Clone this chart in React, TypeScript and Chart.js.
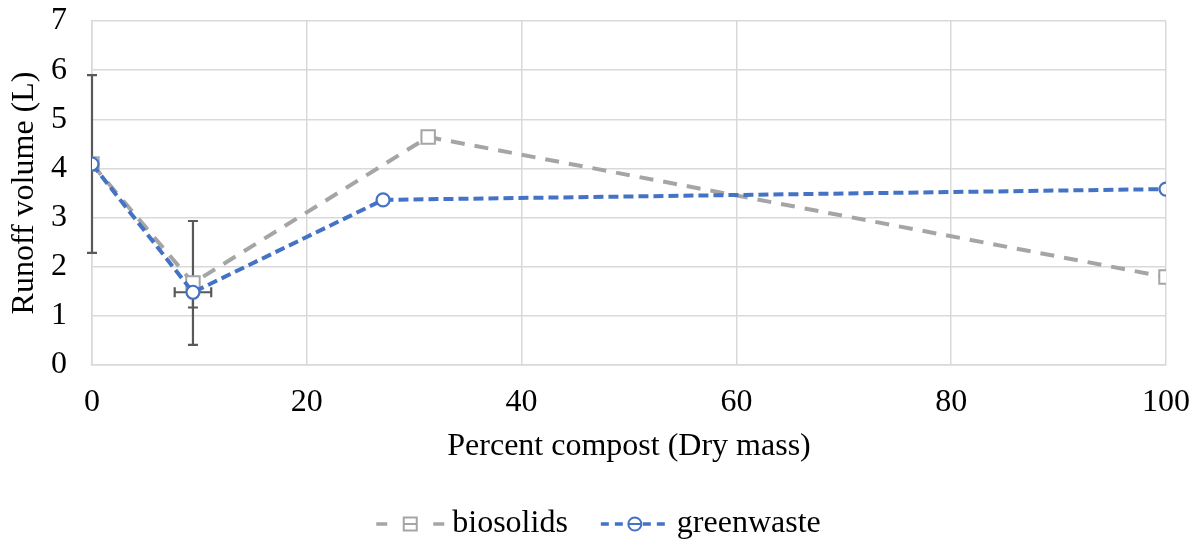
import { useEffect, useRef } from "react";
import { Chart, registerables } from "chart.js";

Chart.register(...registerables);

// ---- data ----
const seriesNames = ["biosolids", "greenwaste"];
const biosolidsX = [0, 9.4, 31.3, 100];
const biosolidsY = [4.09, 1.67, 4.64, 1.79];
const biosolidsYErr = [1.81, 1.26, 0, 0];
const greenwasteX = [0, 9.4, 27.1, 100];
const greenwasteY = [4.09, 1.48, 3.36, 3.58];
const greenwasteYErr = [0, 0.31, 0, 0];
const greenwasteXErr = [0, 1.7, 0, 0];
const xAxisTitle = "Percent compost (Dry mass)";
const yAxisTitle = "Runoff volume (L)";
const xMin = 0, xMax = 100, xStep = 20;
const yMin = 0, yMax = 7, yStep = 1;

const FONT = "'Liberation Serif', 'Times New Roman', serif";
const FS = 32;
const GRAY = "#a5a5a5";
const BLUE = "#4472c4";
const ERR = "#595959";

const errorBarPlugin = {
  id: "errorBars",
  beforeDatasetsDraw(chart: any) {
    const { ctx, scales } = chart;
    const xs = scales.x, ys = scales.y;
    ctx.save();
    ctx.strokeStyle = ERR;
    ctx.lineWidth = 2.2;
    const cap = 5;
    const drawY = (xv: number, yv: number, e: number) => {
      if (!e) return;
      const px = xs.getPixelForValue(xv);
      const y1 = ys.getPixelForValue(yv + e);
      const y2 = ys.getPixelForValue(yv - e);
      ctx.beginPath();
      ctx.moveTo(px, y1); ctx.lineTo(px, y2);
      ctx.moveTo(px - cap, y1); ctx.lineTo(px + cap, y1);
      ctx.moveTo(px - cap, y2); ctx.lineTo(px + cap, y2);
      ctx.stroke();
    };
    const drawX = (xv: number, yv: number, e: number) => {
      if (!e) return;
      const py = ys.getPixelForValue(yv);
      const x1 = xs.getPixelForValue(xv - e);
      const x2 = xs.getPixelForValue(xv + e);
      ctx.beginPath();
      ctx.moveTo(x1, py); ctx.lineTo(x2, py);
      ctx.moveTo(x1, py - cap); ctx.lineTo(x1, py + cap);
      ctx.moveTo(x2, py - cap); ctx.lineTo(x2, py + cap);
      ctx.stroke();
    };
    biosolidsX.forEach((x, i) => drawY(x, biosolidsY[i], biosolidsYErr[i]));
    greenwasteX.forEach((x, i) => {
      drawY(x, greenwasteY[i], greenwasteYErr[i]);
      drawX(x, greenwasteY[i], greenwasteXErr[i]);
    });
    ctx.restore();
  },
};

const legendPlugin = {
  id: "customLegend",
  afterDraw(chart: any) {
    const { ctx, width } = chart;
    const cy = 524;
    ctx.save();
    ctx.font = `${FS}px ${FONT}`;
    ctx.textBaseline = "middle";
    ctx.textAlign = "left";
    const sample = 68, gapText = 8, gapItems = 33;
    const items = [
      { name: seriesNames[0], color: GRAY, dash: [11, 46], shape: "rect" },
      { name: seriesNames[1], color: BLUE, dash: [8, 6], shape: "circle" },
    ];
    const widths = items.map((it) => sample + gapText + ctx.measureText(it.name).width);
    const total = widths.reduce((a, b) => a + b, 0) + gapItems * (items.length - 1);
    let x = width / 2 - total / 2;
    items.forEach((it, i) => {
      ctx.strokeStyle = it.color;
      ctx.lineWidth = 3.5;
      ctx.setLineDash(it.dash);
      ctx.beginPath();
      ctx.moveTo(x, cy); ctx.lineTo(x + sample, cy);
      ctx.stroke();
      ctx.setLineDash([]);
      const mx = x + sample / 2;
      ctx.lineWidth = 2;
      ctx.fillStyle = "#fff";
      if (it.shape === "rect") {
        ctx.fillRect(mx - 7, cy - 7, 14, 14);
        ctx.strokeRect(mx - 6.5, cy - 6.5, 13, 13);
        ctx.beginPath(); ctx.moveTo(mx - 6.5, cy); ctx.lineTo(mx + 6.5, cy); ctx.stroke();
      } else {
        ctx.beginPath(); ctx.arc(mx, cy, 6.5, 0, Math.PI * 2); ctx.fill(); ctx.stroke();
        ctx.beginPath(); ctx.moveTo(mx - 6.5, cy); ctx.lineTo(mx + 6.5, cy); ctx.stroke();
      }
      ctx.fillStyle = "#000";
      ctx.fillText(it.name, x + sample + gapText, cy);
      x += widths[i] + gapItems;
    });
    ctx.restore();
  },
};

export default function App() {
  const ref = useRef<HTMLCanvasElement | null>(null);
  useEffect(() => {
    if (!ref.current) return;
    const chart = new Chart(ref.current, {
      type: "scatter",
      data: {
        datasets: [
          {
            label: seriesNames[0],
            data: biosolidsX.map((x, i) => ({ x, y: biosolidsY[i] })),
            showLine: true,
            borderColor: GRAY,
            borderWidth: 4,
            borderDash: [14, 10],
            pointStyle: "rect",
            pointRadius: 9.5,
            pointBorderWidth: 2,
            pointBorderColor: GRAY,
            pointBackgroundColor: "#fff",
            order: 1,
          },
          {
            label: seriesNames[1],
            data: greenwasteX.map((x, i) => ({ x, y: greenwasteY[i] })),
            showLine: true,
            borderColor: BLUE,
            borderWidth: 4,
            borderDash: [10, 5],
            pointStyle: "circle",
            pointRadius: 6.5,
            pointBorderWidth: 2.2,
            pointBorderColor: BLUE,
            pointBackgroundColor: "#fff",
            order: 0,
          },
        ],
      },
      options: {
        responsive: false,
        animation: false,
        events: [],
        layout: { padding: { left: 0, top: 21, right: 31, bottom: 76.4 } },
        plugins: { legend: { display: false }, tooltip: { enabled: false } },
        scales: {
          x: {
            type: "linear",
            min: xMin,
            max: xMax,
            afterFit: (s: any) => { s.height = 100.6; s.paddingLeft = 0; s.paddingRight = 0; },
            ticks: { stepSize: xStep, padding: 18, color: "#000", font: { family: FONT, size: FS } },
            grid: { color: "#d9d9d9", lineWidth: 1.5, drawTicks: false },
            border: { color: "#d9d9d9", width: 1.5 },
            title: { display: true, text: xAxisTitle, color: "#000", font: { family: FONT, size: FS }, padding: 0 },
          },
          y: {
            type: "linear",
            min: yMin,
            max: yMax,
            afterFit: (s: any) => { s.width = 92; s.paddingTop = 0; s.paddingBottom = 0; },
            ticks: { stepSize: yStep, padding: 25, color: "#000", font: { family: FONT, size: FS } },
            grid: { color: "#d9d9d9", lineWidth: 1.5, drawTicks: false },
            border: { color: "#d9d9d9", width: 1.5 },
            title: { display: true, text: yAxisTitle, color: "#000", font: { family: FONT, size: FS }, padding: { top: 5, bottom: 0 } },
          },
        },
      },
      plugins: [errorBarPlugin, legendPlugin],
    });
    return () => chart.destroy();
  }, []);
  return (
    <div style={{ position: "fixed", left: 0, top: 0, width: 1197, height: 542, background: "#fff" }}>
      <canvas ref={ref} width={1197} height={542} style={{ display: "block" }} />
    </div>
  );
}
